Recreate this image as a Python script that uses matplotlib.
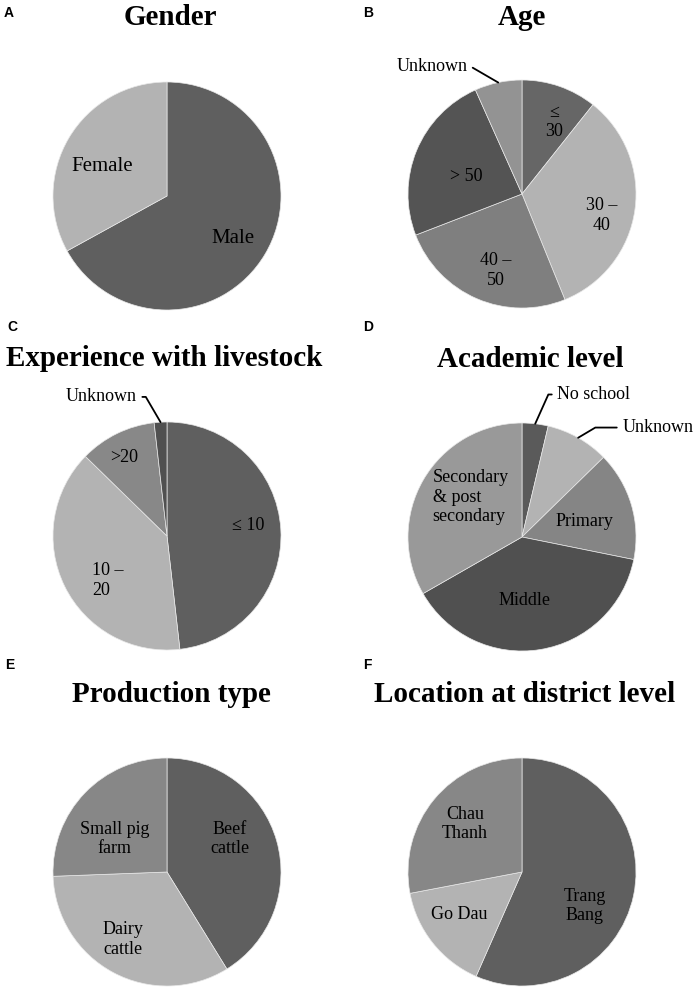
import numpy as np
import matplotlib
matplotlib.use("Agg")
import matplotlib.pyplot as plt

# survey profile (percent of respondents)
gender_labels = ["Male", "Female"]
gender_vals = [67.0, 33.0]

age_labels = ["\u2264\n30", "30 \u2013\n40", "40 \u2013\n50", "> 50", "Unknown"]
age_vals = [10.7, 33.2, 25.3, 24.2, 6.7]

exp_labels = ["\u2264 10", "10 \u2013\n20", ">20", "Unknown"]
exp_vals = [48.2, 39.1, 10.9, 1.8]

acad_labels = ["No school", "Unknown", "Primary", "Middle", "Secondary\n& post\nsecondary"]
acad_vals = [3.7, 9.0, 15.5, 38.6, 33.3]

prod_labels = ["Beef\ncattle", "Dairy\ncattle", "Small pig\nfarm"]
prod_vals = [41.2, 33.2, 25.6]

loc_labels = ["Trang\nBang", "Go Dau", "Chau\nThanh"]
loc_vals = [56.6, 15.4, 28.0]

W, H = 699, 993
R = 114
serif = "Liberation Serif"

fig = plt.figure(figsize=(W / 100, H / 100), dpi=100)

# letter, title, title pos (x, baseline y from top), pie centre, labels, values, colours,
# label positions (radius units), outside labels {index: (x, y, side, stub)}, font size
panels = [
    ("A", "Gender", (170, 25), (167, 196), gender_labels, gender_vals,
     ["#5f5f5f", "#b3b3b3"],
     [(0.58, -0.37), (-0.57, 0.26)], {}, 15),
    ("B", "Age", (522, 25), (522, 194), age_labels, age_vals,
     ["#666666", "#b3b3b3", "#7f7f7f", "#545454", "#939393"],
     [(0.28, 0.63), (0.70, -0.19), (-0.23, -0.67), (-0.49, 0.15), None],
     {4: (-0.48, 1.115, "right", 4)}, 13),
    ("C", "Experience with livestock", (164, 366), (167, 536), exp_labels, exp_vals,
     ["#5f5f5f", "#b3b3b3", "#888888", "#505050"],
     [(0.71, 0.09), (-0.52, -0.39), (-0.38, 0.69), None],
     {3: (-0.265, 1.22, "right", 9)}, 13),
    ("D", "Academic level", (530, 367), (522, 537), acad_labels, acad_vals,
     ["#5a5a5a", "#b3b3b3", "#858585", "#505050", "#999999"],
     [None, None, (0.55, 0.14), (0.02, -0.56), (-0.45, 0.35)],
     {0: (0.31, 1.25, "left", 9), 1: (0.88, 0.96, "left", 27)}, 13),
    ("E", "Production type", (171, 702), (167, 872), prod_labels, prod_vals,
     ["#5f5f5f", "#b3b3b3", "#878787"],
     [(0.55, 0.29), (-0.39, -0.59), (-0.46, 0.29)], {}, 13),
    ("F", "Location at district level", (525, 702), (522, 872), loc_labels, loc_vals,
     ["#5f5f5f", "#b3b3b3", "#878787"],
     [(0.55, -0.30), (-0.55, -0.37), (-0.50, 0.42)], {}, 13),
]

letter_pos = {"A": (4, 17), "B": (363, 17), "C": (7, 331),
              "D": (363, 331), "E": (5, 669), "F": (363, 669)}

for letter, title, tpos, centre, labels, vals, cols, lpos, outside, fs in panels:
    cx, cy = centre
    ax = fig.add_axes([(cx - R) / W, (H - cy - R) / H, 2 * R / W, 2 * R / H])
    wedges, _ = ax.pie(vals, colors=cols, startangle=90, counterclock=False,
                       radius=1, wedgeprops=dict(edgecolor="#e8e8e8", linewidth=0.5))
    ax.set_xlim(-1, 1)
    ax.set_ylim(-1, 1)
    ax.axis("off")

    for i, lab in enumerate(labels):
        if i in outside:
            tx, ty, side, stub = outside[i]
            w = wedges[i]
            mid = np.deg2rad((w.theta1 + w.theta2) / 2)
            ex, ey = np.cos(mid), np.sin(mid)
            ang = 0 if side == "right" else 180
            rel = (1, 0.5) if side == "right" else (0, 0.5)
            ax.annotate(lab, xy=(ex, ey), xytext=(tx, ty), ha=side, va="center",
                        fontsize=13, family=serif, annotation_clip=False,
                        arrowprops=dict(arrowstyle="-", color="black", lw=1.3,
                                        shrinkA=2, shrinkB=0, relpos=rel,
                                        connectionstyle="arc,angleA=%d,angleB=0,armA=%d,armB=0,rad=0" % (ang, stub)))
        else:
            x, y = lpos[i]
            malign = "left" if lab.startswith("Secondary") or lab.startswith("10") else "center"
            ax.text(x, y, lab, ha="center", va="center", fontsize=fs, family=serif,
                    color="black", multialignment=malign)

    fig.text(tpos[0] / W, 1 - tpos[1] / H, title, ha="center", va="baseline",
             fontsize=21, fontweight="bold", family=serif)
    lx, ly = letter_pos[letter]
    fig.text(lx / W, 1 - ly / H, letter, ha="left", va="baseline",
             fontsize=10, fontweight="bold", family="Liberation Sans")

fig.savefig("out.png", dpi=100)
